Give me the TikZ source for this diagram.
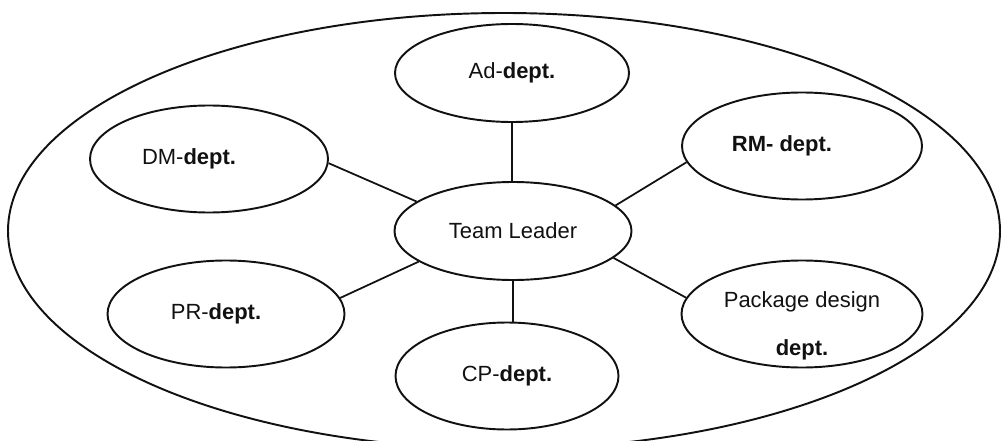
\documentclass[tikz,border=0pt]{standalone}
\usepackage{fontspec}
\setmainfont{Liberation Sans}
\usetikzlibrary{shapes.geometric}
\definecolor{ink}{HTML}{111111}

\begin{document}
\begin{tikzpicture}[
    line width=1.1pt, color=ink,
    dept/.style={ellipse, draw, inner sep=0pt, minimum width=4.74cm, minimum height=2.14cm,
      font=\fontsize{12.5}{15}\selectfont, text=ink, align=center},
    hub/.style={dept, minimum height=1.96cm},
    link/.style={line width=1.0pt}]
  % fixed 20.1 cm x 8.8 cm canvas
  \clip (0,0) rectangle (20.1,8.8);

  % ================= team boundary =================
  \draw (10.08,4.18) ellipse [x radius=9.92, y radius=4.36];

  % ================= departments round the leader =================
  \node[hub] (leader) at (10.26,4.18) {Team Leader};
  \node[hub, minimum width=4.68cm] (ad) at (10.24,7.34) {Ad-\textbf{dept.}};
  \node[dept, minimum width=4.76cm] (dm) at (4.18,5.62) {DM-\textbf{dept.}\hspace*{0.8cm}};
  \node[dept, minimum width=4.80cm] (rm) at (16.04,5.88) {\textbf{RM- dept.}\hspace*{0.8cm}};
  \node[dept] (pr) at (4.52,2.52) {PR-\textbf{dept.}\hspace*{0.4cm}};
  \node[dept, minimum width=4.82cm,
    label={[name=packtext, align=center, font=\fontsize{12.5}{15}\selectfont, yshift=-0.24cm]center:Package design\\[12pt]\textbf{dept.}}]
    (pack) at (16.04,2.52) {};
  \node[dept, minimum width=4.46cm] (cp) at (10.14,1.28) {CP-\textbf{dept.}};

  % ================= links =================
  \draw[link] (ad.south) -- (ad.south |- leader.north);
  \draw[link] (leader.south) -- (leader.south |- cp.north);
  \draw[link] (dm.-2) -- (leader.163);
  \draw[link] (rm.188) -- (leader.14);
  \draw[link] (pr.8) -- (leader.198);
  \draw[link] (pack.172) -- (leader.-15);
\end{tikzpicture}
\end{document}
